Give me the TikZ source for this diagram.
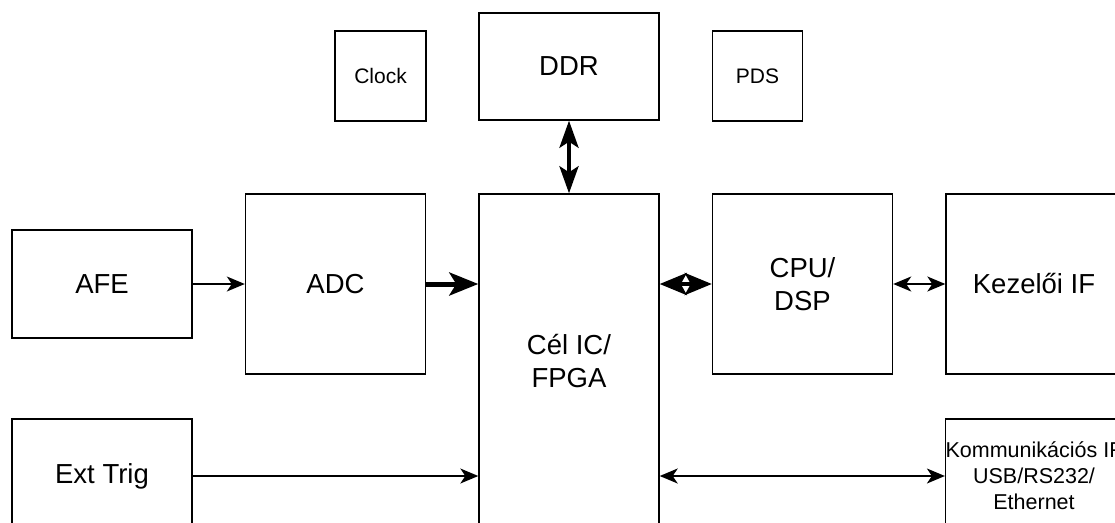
\documentclass[tikz,border=0pt]{standalone}
\usepackage{fontspec}
\setmainfont{Liberation Sans}
\usetikzlibrary{arrows.meta}
\begin{document}
\begin{tikzpicture}[x=1pt,y=-1pt,
  blk/.style={draw,line width=1.4pt,minimum width=180pt,inner sep=0pt,align=center,font=\fontsize{27.5}{33}\selectfont},
  small/.style={font=\fontsize{21}{25}\selectfont},
  thin/.style={line width=1.4pt,-{Stealth[length=18pt,width=15pt,inset=5pt]}},
  thinboth/.style={line width=1.6pt,{Stealth[length=18pt,width=15pt,inset=5pt]}-{Stealth[length=18pt,width=15pt,inset=5pt]}},
  fat/.style={line width=5pt,-{Stealth[length=29pt,width=23pt,inset=7pt]}},
  fatboth/.style={line width=4pt,{Stealth[length=27pt,width=22pt,inset=6pt]}-{Stealth[length=27pt,width=22pt,inset=6pt]}}]
  \useasboundingbox (0,0) rectangle (1115,522);
  \def\h{180pt}
  \node[blk,minimum width=91pt,minimum height=90pt,small] (clock) at (380.5,76) {Clock};
  \node[blk,minimum height=107pt] (ddr) at (569,66.5) {DDR};
  \node[blk,minimum width=90pt,minimum height=90pt,small] (pds) at (757.5,76) {PDS};
  \node[blk,minimum height=108pt] (afe) at (102,284) {AFE};
  \node[blk,minimum height=\h] (adc) at (335.5,284) {ADC};
  \node[blk,minimum height=334pt] (fpga) at (569,361) {Cél IC/\\FPGA};
  \node[blk,minimum height=\h] (cpu) at (802.5,284) {CPU/\\DSP};
  \node[blk,minimum height=114pt] (ext) at (102,476) {Ext Trig};
  \node[blk,minimum width=176pt,minimum height=\h] (kez) at (1034,284) {Kezelői IF};
  \node[blk,minimum width=176pt,minimum height=114pt,font=\fontsize{21.5}{26}\selectfont] (komm) at (1034,476) {Kommunikációs IF\\USB/RS232/\\Ethernet};
  \draw[thin] (afe.east) -- (afe.east -| adc.west);
  \draw[fat] (adc.east) -- (adc.east -| fpga.west);
  \draw[fatboth] (cpu.west -| fpga.east) -- (cpu.west);
  \draw[thinboth] (cpu.east) -- (cpu.east -| kez.west);
  \draw[thin] (ext.east) -- (ext.east -| fpga.west);
  \draw[thinboth] (ext.east -| fpga.east) -- (ext.east -| komm.west);
  \draw[fatboth,{Stealth[length=27pt,width=19pt,inset=6pt]}-{Stealth[length=27pt,width=19pt,inset=6pt]}] (ddr.south) -- (fpga.north);
\end{tikzpicture}
\end{document}
